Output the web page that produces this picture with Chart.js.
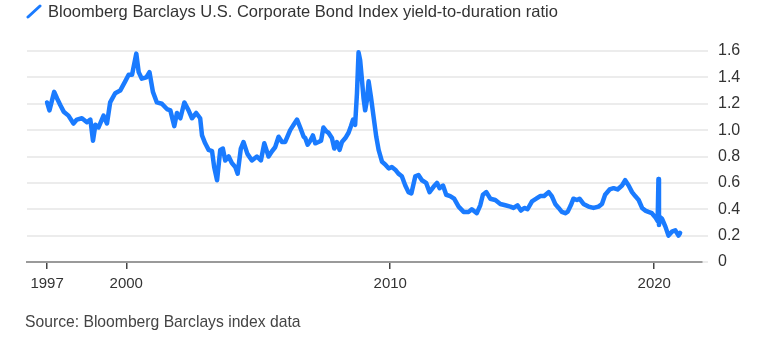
<!DOCTYPE html>
<html>
<head>
<meta charset="utf-8">
<script src="https://cdn.jsdelivr.net/npm/chart.js@4"></script>
<style>
  html, body { margin: 0; padding: 0; background: #fff; }
  #wrap { position: relative; width: 780px; height: 354px; overflow: hidden; }
  #chart { position: absolute; left: 0; top: 0; }
  .title { position: absolute; left: 26px; top: 2px; font: 16.5px "Liberation Sans", Arial, sans-serif; color: #333; white-space: nowrap; }
  .title svg { vertical-align: -2px; margin-right: 6px; }
  .source { position: absolute; left: 25px; top: 313px; font: 15.7px "Liberation Sans", Arial, sans-serif; color: #444; white-space: nowrap; }
</style>
</head>
<body>
<div id="wrap">
  <canvas id="chart" width="780" height="354"></canvas>
  <div class="title"><svg width="16" height="15"><line x1="2" y1="13" x2="14" y2="2" stroke="#1a7bff" stroke-width="3" stroke-linecap="round"/></svg>Bloomberg Barclays U.S. Corporate Bond Index yield-to-duration ratio</div>
  <div class="source">Source: Bloomberg Barclays index data</div>
</div>
<script>
  // decimal years and yield-to-duration ratio
  const years = [
    1997.00, 1997.09, 1997.27, 1997.38, 1997.50, 1997.63, 1997.81, 1998.00, 1998.13, 1998.32,
    1998.51, 1998.64, 1998.74, 1998.83, 1998.95, 1999.14, 1999.27, 1999.39, 1999.58, 1999.77,
    1999.96, 2000.09, 2000.22, 2000.38, 2000.47, 2000.59, 2000.76, 2000.88, 2001.01, 2001.16,
    2001.35, 2001.54, 2001.67, 2001.82, 2001.92, 2002.05, 2002.20, 2002.36, 2002.49, 2002.65,
    2002.80, 2002.87, 2002.99, 2003.12, 2003.25, 2003.33, 2003.44, 2003.56, 2003.66, 2003.75,
    2003.88, 2004.00, 2004.13, 2004.22, 2004.34, 2004.44, 2004.59, 2004.76, 2004.95, 2005.10,
    2005.23, 2005.39, 2005.52, 2005.64, 2005.77, 2005.90, 2006.02, 2006.21, 2006.34, 2006.47,
    2006.59, 2006.72, 2006.78, 2006.87, 2006.97, 2007.07, 2007.16, 2007.28, 2007.38, 2007.47,
    2007.58, 2007.66, 2007.79, 2007.88, 2007.98, 2008.08, 2008.17, 2008.30, 2008.42, 2008.51,
    2008.59, 2008.67, 2008.74, 2008.80, 2008.86, 2008.92, 2008.99, 2009.05, 2009.12, 2009.18,
    2009.27, 2009.37, 2009.47, 2009.56, 2009.69, 2009.81, 2009.94, 2010.06, 2010.19, 2010.31,
    2010.44, 2010.57, 2010.69, 2010.80, 2010.95, 2011.07, 2011.20, 2011.36, 2011.49, 2011.64,
    2011.77, 2011.87, 2012.00, 2012.12, 2012.27, 2012.42, 2012.59, 2012.78, 2012.97, 2013.09,
    2013.28, 2013.41, 2013.51, 2013.64, 2013.79, 2013.98, 2014.17, 2014.36, 2014.55, 2014.67,
    2014.82, 2014.95, 2015.08, 2015.20, 2015.37, 2015.53, 2015.68, 2015.83, 2016.00, 2016.12,
    2016.25, 2016.38, 2016.50, 2016.63, 2016.72, 2016.84, 2016.94, 2017.07, 2017.17, 2017.32,
    2017.51, 2017.70, 2017.89, 2018.02, 2018.14, 2018.31, 2018.46, 2018.61, 2018.78, 2018.90,
    2019.03, 2019.16, 2019.28, 2019.41, 2019.54, 2019.66, 2019.78, 2019.91, 2020.04, 2020.13,
    2020.16, 2020.18, 2020.22, 2020.29, 2020.42, 2020.54, 2020.67, 2020.80, 2020.92, 2020.98
  ];
  const ratio = [
    1.21, 1.15, 1.29, 1.24, 1.19, 1.14, 1.11, 1.05, 1.08, 1.09,
    1.06, 1.08, 0.92, 1.04, 1.02, 1.11, 1.05, 1.21, 1.28, 1.30,
    1.37, 1.42, 1.42, 1.58, 1.44, 1.39, 1.40, 1.44, 1.29, 1.21,
    1.20, 1.16, 1.15, 1.03, 1.13, 1.09, 1.21, 1.15, 1.09, 1.13,
    1.09, 0.96, 0.90, 0.85, 0.84, 0.72, 0.62, 0.85, 0.86, 0.77,
    0.80, 0.75, 0.72, 0.67, 0.86, 0.91, 0.82, 0.77, 0.80, 0.77,
    0.90, 0.80, 0.84, 0.87, 0.95, 0.91, 0.91, 1.00, 1.04, 1.08,
    1.02, 0.95, 0.94, 0.89, 0.92, 0.96, 0.90, 0.91, 0.92, 1.02,
    0.99, 0.98, 0.94, 0.86, 0.91, 0.85, 0.91, 0.94, 0.98, 1.03,
    1.08, 1.04, 1.28, 1.59, 1.53, 1.40, 1.24, 1.15, 1.23, 1.37,
    1.25, 1.10, 0.95, 0.85, 0.76, 0.74, 0.71, 0.72, 0.70, 0.67,
    0.65, 0.58, 0.53, 0.52, 0.65, 0.66, 0.62, 0.60, 0.53, 0.57,
    0.60, 0.56, 0.58, 0.51, 0.50, 0.48, 0.42, 0.38, 0.38, 0.40,
    0.37, 0.43, 0.51, 0.53, 0.48, 0.47, 0.44, 0.43, 0.42, 0.41,
    0.43, 0.39, 0.41, 0.40, 0.46, 0.48, 0.50, 0.50, 0.53, 0.50,
    0.44, 0.41, 0.38, 0.37, 0.38, 0.43, 0.48, 0.47, 0.48, 0.44,
    0.42, 0.41, 0.42, 0.44, 0.51, 0.55, 0.56, 0.55, 0.58, 0.62,
    0.58, 0.53, 0.50, 0.47, 0.41, 0.39, 0.38, 0.37, 0.34, 0.31,
    0.63, 0.28, 0.34, 0.33, 0.27, 0.20, 0.23, 0.24, 0.20, 0.22
  ];

  const xTicks = [1997, 2000, 2010, 2020];
  const yTicks = [0, 0.2, 0.4, 0.6, 0.8, 1.0, 1.2, 1.4, 1.6];

  const points = years.map((y, i) => ({ x: y, y: ratio[i] }));

  const tickFont = { family: "'Liberation Sans', Arial, sans-serif", size: 15 };

  new Chart(document.getElementById('chart'), {
    type: 'line',
    data: {
      datasets: [{
        data: points,
        borderColor: '#1a7bff',
        borderWidth: 4.5,
        borderJoinStyle: 'round',
        borderCapStyle: 'round',
        pointRadius: 0,
        tension: 0,
        fill: false,
        clip: false
      }]
    },
    options: {
      responsive: false,
      animation: false,
      layout: { padding: { left: 27, top: 51, right: 0, bottom: 0 } },
      plugins: {
        legend: { display: false },
        tooltip: { enabled: false }
      },
      scales: {
        x: {
          type: 'linear',
          min: 1996.24,
          max: 2021.81,
          afterBuildTicks: (s) => { s.ticks = xTicks.map(v => ({ value: v })); },
          afterFit: (s) => { s.height = 92; },
          ticks: {
            autoSkip: false,
            maxRotation: 0,
            padding: 6,
            color: '#333',
            font: tickFont,
            callback: (v) => String(v)
          },
          grid: {
            drawOnChartArea: false,
            drawTicks: true,
            tickLength: 7,
            color: '#444',
            lineWidth: 1.5
          },
          border: { display: true, color: '#9a9a9a', width: 2 }
        },
        y: {
          position: 'right',
          min: 0,
          max: 1.6,
          afterBuildTicks: (s) => { s.ticks = yTicks.map(v => ({ value: v })); },
          afterFit: (s) => { s.width = 78; },
          ticks: {
            padding: 10,
            color: '#333',
            font: { family: "'Liberation Sans', Arial, sans-serif", size: 16 },
            callback: (v) => v === 0 ? '0' : v.toFixed(1)
          },
          grid: {
            color: '#ececec',
            lineWidth: 2,
            drawTicks: true,
            tickLength: 6
          },
          border: { display: false }
        }
      }
    }
  });
</script>
</body>
</html>
